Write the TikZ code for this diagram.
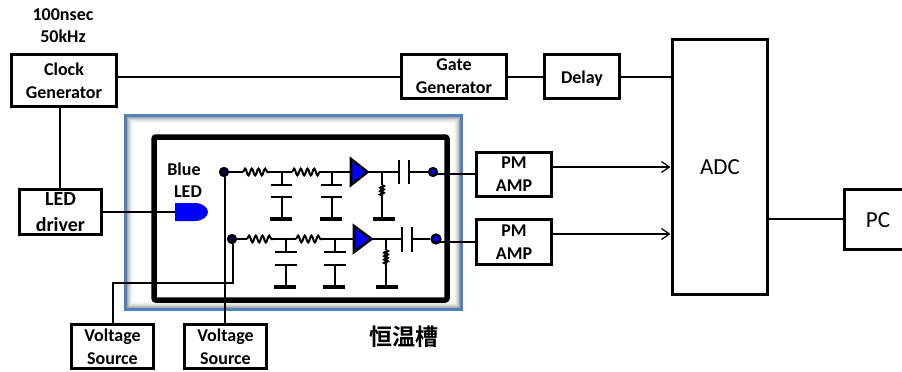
\documentclass[tikz,border=0pt]{standalone}
\usepackage{fontspec}
\setmainfont{Carlito}
\newfontfamily\cjk{Noto Sans CJK SC}[BoldFont={Noto Sans CJK SC Bold}]
\usetikzlibrary{arrows.meta,decorations.pathmorphing}
\definecolor{frameblue}{HTML}{4F81BD}
\definecolor{ledblue}{HTML}{0000FF}
\tikzset{
  x=1pt,y=-1pt,
  box/.style={draw=black,line width=3pt,fill=white,align=center,inner sep=0pt,font=\fontsize{18}{23}\selectfont\bfseries,execute at begin node={\rule{0pt}{17pt}}},
  wire/.style={draw=black,line width=1.8pt},
  thin wire/.style={draw=black,line width=1.1pt},
  circuit/.style={draw=black,line width=2pt},
  plate/.style={draw=black,line width=2.6pt},
  gnd/.style={draw=black,line width=3.4pt},
  res/.style={draw=black,line width=2pt,decorate,decoration={snake,segment length=6.7pt,amplitude=3.4pt}},
  choke/.style={draw=black,line width=2pt,decorate,decoration={snake,segment length=3.4pt,amplitude=2pt}},
  dotmark/.style={circle,draw=black,line width=2.2pt,fill=ledblue,minimum size=8pt,inner sep=0pt},
  amp/.style={draw=black,line width=2.6pt,fill=ledblue,line join=miter},
  tag/.style={inner sep=0pt,font=\fontsize{18}{23}\selectfont\bfseries,align=center},
  bigtag/.style={inner sep=0pt,font=\fontsize{23}{26}\selectfont},
  arrowed/.style={-{Straight Barb[length=8pt,width=11pt,line width=1.2pt]}},
}
\begin{document}
\begin{tikzpicture}
\useasboundingbox (0,0) rectangle (902,372);
% thermostat frame with inner shadow
\fill[white] (124,114) rectangle (462,310);
\foreach \i/\g in {1/55,2/66,3/75,4/83,5/89,6/94,7/97}{
  \draw[black!\the\numexpr100-\g\relax,line width=1pt] (125+\i,115+\i) rectangle (461-\i,309-\i);
}
\node[draw=frameblue,line width=3pt,minimum width=336pt,minimum height=194pt,inner sep=0pt] (bath) at (293,212) {};
\node[draw=black,line width=5.5pt,rounded corners=2pt,minimum width=293pt,minimum height=163pt,inner sep=0pt] (inner) at (300.5,218.5) {};
% boxes
\node[box,minimum width=105pt,minimum height=52pt] (clock) at (64,80.5) {Clock\\Generator};
\node[box,minimum width=105pt,minimum height=44pt] (gate) at (454,76.5) {Gate\\Generator};
\node[box,minimum width=75pt,minimum height=44pt] (delay) at (582,76.5) {Delay};
\node[box,font=\fontsize{20}{26}\selectfont\bfseries,minimum width=82pt,minimum height=45pt] (led) at (60.5,212) {LED\\driver};
\node[box,minimum width=75pt,minimum height=44pt] (pma) at (514,174.5) {PM\\AMP};
\node[box,minimum width=75pt,minimum height=45pt] (pmb) at (514,242) {PM\\AMP};
\node[box,minimum width=82pt,minimum height=44pt] (vsa) at (112.5,346.5) {Voltage\\Source};
\node[box,minimum width=82pt,minimum height=44pt] (vsb) at (225.5,346.5) {Voltage\\Source};
\node[box,minimum width=95pt,minimum height=255pt] (adc) at (719.5,166.5) {};
\node[box,minimum width=82pt,minimum height=60pt] (pc) at (885,219) {};
\node[bigtag] (adct) at (720,167) {ADC};
\node[bigtag] (pct) at (878,220) {PC};
% labels
\node[tag] (t1) at (63,15) {100nsec};
\node[tag] (t2) at (63,36) {50kHz};
\node[tag] (t3) at (184,169) {Blue};
\node[tag] (t4) at (188,192) {LED};
\node[inner sep=0pt,font=\cjk\fontsize{23}{26}\selectfont\bfseries] (t5) at (404,337) {恒温槽};
% top connectors
\coordinate (ytop) at (0,77);
\draw[wire] (clock.east |- ytop) -- (gate.west |- ytop);
\draw[wire] (gate.east |- ytop) -- (delay.west |- ytop);
\draw[thin wire] (delay.east |- ytop) -- (adc.west |- ytop);
\coordinate (xdrv) at (60,0);
\draw[wire] (clock.south -| xdrv) -- (led.north -| xdrv);
% LED
\path[fill=ledblue] (175,203) -- (195,203) .. controls (203,203) and (208,208) .. (208,212) .. controls (208,216) and (203,221) .. (195,221) -- (175,221) -- cycle;
\coordinate (ledin) at (175,212);
\draw[wire] (led.east |- ledin) -- (ledin);
% upper channel
\node[dotmark,fill=black!70!ledblue] (da) at (224,172) {};
\node[dotmark] (db) at (433,172) {};
\coordinate (a1) at (243,172); \coordinate (a2) at (270,172); \coordinate (a3) at (282,172);
\coordinate (a4) at (292,172); \coordinate (a5) at (320,172); \coordinate (a6) at (332,172);
\coordinate (a7) at (350,172); \coordinate (a8) at (368,172); \coordinate (a9) at (382,172);
\coordinate (a10) at (399,172); \coordinate (a11) at (409,172);
\draw[circuit] (da) -- (a1);
\draw[res] (a1) -- (a2);
\draw[circuit] (a2) -- (a4);
\draw[res] (a4) -- (a5);
\draw[circuit] (a5) -- (a7);
\draw[circuit] (a8) -- (a10);
\draw[circuit] (a11) -- (db);
\draw[amp] (351,159) -- (367.5,172) -- (351,185) -- cycle;
\draw[plate] (399,160) -- (399,184);
\draw[plate] (409,160) -- (409,184);
\foreach \x in {282,332}{
  \draw[circuit] (\x,172) -- (\x,185);
  \draw[plate] (\x-11,185) -- (\x+10,185);
  \draw[plate] (\x-11,197) -- (\x+10,197);
  \draw[circuit] (\x,197) -- (\x,218);
  \draw[gnd] (\x-12,219) -- (\x+10,219);
}
\draw[circuit] (a9) -- (382,185);
\draw[choke] (382,185) -- (382,197);
\draw[circuit] (382,197) -- (382,218);
\draw[gnd] (373,219) -- (395,219);
% lower channel
\node[dotmark,fill=black!70!ledblue] (dc) at (232,239) {};
\node[dotmark,minimum size=9pt] (dd) at (436,239) {};
\coordinate (b1) at (247,239); \coordinate (b2) at (273,239); \coordinate (b3) at (286,239);
\coordinate (b4) at (296,239); \coordinate (b5) at (323,239); \coordinate (b6) at (335,239);
\coordinate (b7) at (353,239); \coordinate (b8) at (372,239); \coordinate (b9) at (386,239);
\coordinate (b10) at (402,239); \coordinate (b11) at (412,239);
\draw[circuit] (dc) -- (b1);
\draw[res] (b1) -- (b2);
\draw[circuit] (b2) -- (b4);
\draw[res] (b4) -- (b5);
\draw[circuit] (b5) -- (b7);
\draw[circuit] (b8) -- (b10);
\draw[circuit] (b11) -- (dd);
\draw[amp] (354,226) -- (371.5,239) -- (354,252) -- cycle;
\draw[plate] (402,227) -- (402,252);
\draw[plate] (412,227) -- (412,252);
\foreach \x in {286,335}{
  \draw[circuit] (\x,239) -- (\x,252);
  \draw[plate] (\x-11,252) -- (\x+11,252);
  \draw[plate] (\x-11,265) -- (\x+11,265);
  \draw[circuit] (\x,265) -- (\x,286);
  \draw[gnd] (\x-12,287) -- (\x+10,287);
}
\draw[circuit] (b9) -- (386,250);
\draw[choke] (386,250) -- (386,265);
\draw[circuit] (386,265) -- (386,286);
\draw[gnd] (376,287) -- (398,287);
% bias wires
\coordinate (xb) at (225,0);
\draw[wire] (da.south -| xb) -- (vsb.north -| xb);
\coordinate (bend1) at (233,283);
\coordinate (bend2) at (113,283);
\draw[thin wire] (dc.south -| bend1) -- (bend1) -- (bend2) -- (vsa.north -| bend2);
% outputs
\coordinate (ya) at (0,174); \coordinate (yb) at (0,242);
\draw[wire] (db.center |- ya) -- (pma.west |- ya);
\draw[wire] (dd.center |- yb) -- (pmb.west |- yb);
\coordinate (yc) at (0,167); \coordinate (yd) at (0,234); \coordinate (ye) at (0,219);
\draw[wire,arrowed] (pma.east |- yc) -- (adc.west |- yc);
\draw[thin wire,arrowed] (pmb.east |- yd) -- (adc.west |- yd);
\draw[thin wire] (adc.east |- ye) -- (pc.west |- ye);
\end{tikzpicture}
\end{document}
